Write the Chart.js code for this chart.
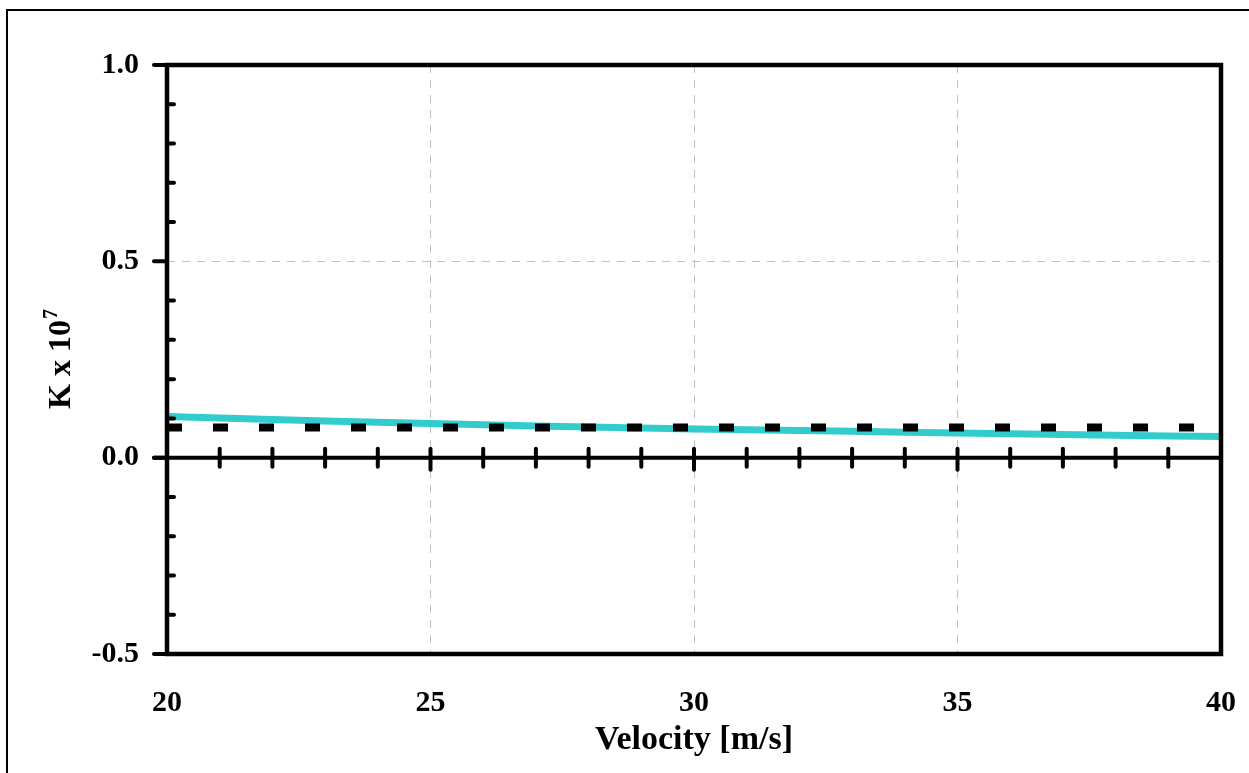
<!DOCTYPE html>
<html>
<head>
<meta charset="utf-8">
<script src="https://cdn.jsdelivr.net/npm/chart.js@4"></script>
<style>
  body { margin: 0; background: #fff; }
  #chart { display: block; }
</style>
</head>
<body>
<canvas id="chart" width="1249" height="773"></canvas>
<script>
const velocity = [20, 22, 24, 26, 28, 30, 32, 34, 36, 38, 40];
const kCurve = [0.105, 0.097, 0.090, 0.084, 0.078, 0.073, 0.069, 0.065, 0.061, 0.057, 0.054];
const velocityRange = [20, 40];
const kLevel = [0.077, 0.077];
const yTicks = [-0.5, 0.0, 0.5, 1.0];
const xTicks = [20, 25, 30, 35, 40];

const FONT = '"Liberation Serif", "Times New Roman", serif';

// frame, zero line and custom tick marks
const axesDecor = {
    id: 'axesDecor',
    beforeDatasetsDraw(chart) {
        const c = chart.ctx;
        const xs = chart.scales.x;
        const ys = chart.scales.y;
        const area = chart.chartArea;
        const y0 = ys.getPixelForValue(0);
        c.save();
        c.strokeStyle = '#000';
        c.lineCap = 'round';
        // zero line
        c.lineWidth = 4;
        c.beginPath();
        c.moveTo(area.left - 13, y0);
        c.lineTo(area.right, y0);
        c.stroke();
        // ticks on the zero line
        for (let v = 21; v < 40; v++) {
            const px = xs.getPixelForValue(v);
            const major = v % 5 === 0;
            c.beginPath();
            c.moveTo(px, y0 - 9);
            c.lineTo(px, y0 + (major ? 12 : 9));
            c.stroke();
        }
        c.restore();
    },
    afterDatasetsDraw(chart) {
        const c = chart.ctx;
        const ys = chart.scales.y;
        const area = chart.chartArea;
        c.save();
        c.strokeStyle = '#000';
        // plot frame
        c.lineWidth = 4.5;
        c.lineCap = 'square';
        c.strokeRect(area.left, area.top, area.right - area.left, area.bottom - area.top);
        // y major ticks outward
        c.lineCap = 'round';
        c.lineWidth = 4;
        for (const t of yTicks) {
            const py = ys.getPixelForValue(t);
            c.beginPath();
            c.moveTo(area.left - 13, py);
            c.lineTo(area.left, py);
            c.stroke();
        }
        // y minor ticks inward
        for (let i = -4; i < 10; i++) {
            if (i % 5 === 0) continue;
            const py = ys.getPixelForValue(i / 10);
            c.beginPath();
            c.moveTo(area.left, py);
            c.lineTo(area.left + 7, py);
            c.stroke();
        }
        c.restore();
    },
    afterDraw(chart) {
        const c = chart.ctx;
        const area = chart.chartArea;
        c.save();
        // outer border
        c.strokeStyle = '#000';
        c.lineWidth = 2;
        c.strokeRect(7, 10, 1300, 900);
        // axis titles
        c.fillStyle = '#000';
        c.font = 'bold 34px ' + FONT;
        c.textAlign = 'center';
        c.textBaseline = 'alphabetic';
        c.fillText('Velocity [m/s]', (area.left + area.right) / 2, 749);
        // y title with superscript
        c.translate(70, (area.top + area.bottom) / 2);
        c.rotate(-Math.PI / 2);
        c.textAlign = 'left';
        c.font = 'bold 32px ' + FONT;
        const main = 'K x 10';
        const w1 = c.measureText(main).width;
        c.font = 'bold 20px ' + FONT;
        const w2 = c.measureText('7').width;
        const start = -(w1 + w2) / 2;
        c.font = 'bold 32px ' + FONT;
        c.fillText(main, start, 0);
        c.font = 'bold 20px ' + FONT;
        c.fillText('7', start + w1 + 1, -13);
        c.restore();
    }
};

new Chart(document.getElementById('chart').getContext('2d'), {
    type: 'scatter',
    data: {
        datasets: [
            {
                label: 'K',
                data: velocity.map((v, i) => ({ x: v, y: kCurve[i] })),
                showLine: true,
                borderColor: '#33cccc',
                borderWidth: 7,
                pointRadius: 0,
                tension: 0.4,
                order: 2
            },
            {
                label: 'level',
                data: velocityRange.map((v, i) => ({ x: v, y: kLevel[i] })),
                showLine: true,
                borderColor: '#000',
                borderWidth: 8,
                borderDash: [15, 31],
                borderCapStyle: 'butt',
                pointRadius: 0,
                order: 1
            }
        ]
    },
    options: {
        responsive: false,
        animation: false,
        devicePixelRatio: 1,
        layout: { padding: { top: 65, right: 28, left: 0, bottom: 0 } },
        plugins: {
            legend: { display: false },
            tooltip: { enabled: false }
        },
        scales: {
            x: {
                type: 'linear',
                min: 20,
                max: 40,
                afterFit: (scale) => {
                    scale.height = 119;
                    scale.paddingLeft = 0;
                    scale.paddingRight = 0;
                },
                afterBuildTicks: (scale) => { scale.ticks = xTicks.map(v => ({ value: v })); },
                ticks: {
                    padding: 31,
                    color: '#000',
                    font: { family: FONT, size: 30, weight: 'bold' },
                    callback: (v) => String(v)
                },
                grid: {
                    drawTicks: false,
                    color: '#c0c0c0',
                    lineWidth: 1
                },
                border: { display: false, dash: [8, 7] }
            },
            y: {
                min: -0.5,
                max: 1.0,
                afterFit: (scale) => {
                    scale.width = 167;
                    scale.paddingTop = 0;
                    scale.paddingBottom = 0;
                },
                afterBuildTicks: (scale) => { scale.ticks = yTicks.map(v => ({ value: v })); },
                ticks: {
                    padding: 28,
                    color: '#000',
                    font: { family: FONT, size: 30, weight: 'bold' },
                    callback: (v) => v.toFixed(1)
                },
                grid: {
                    drawTicks: false,
                    color: '#c0c0c0',
                    lineWidth: 1
                },
                border: { display: false, dash: [8, 7] }
            }
        }
    },
    plugins: [axesDecor]
});
</script>
</body>
</html>
